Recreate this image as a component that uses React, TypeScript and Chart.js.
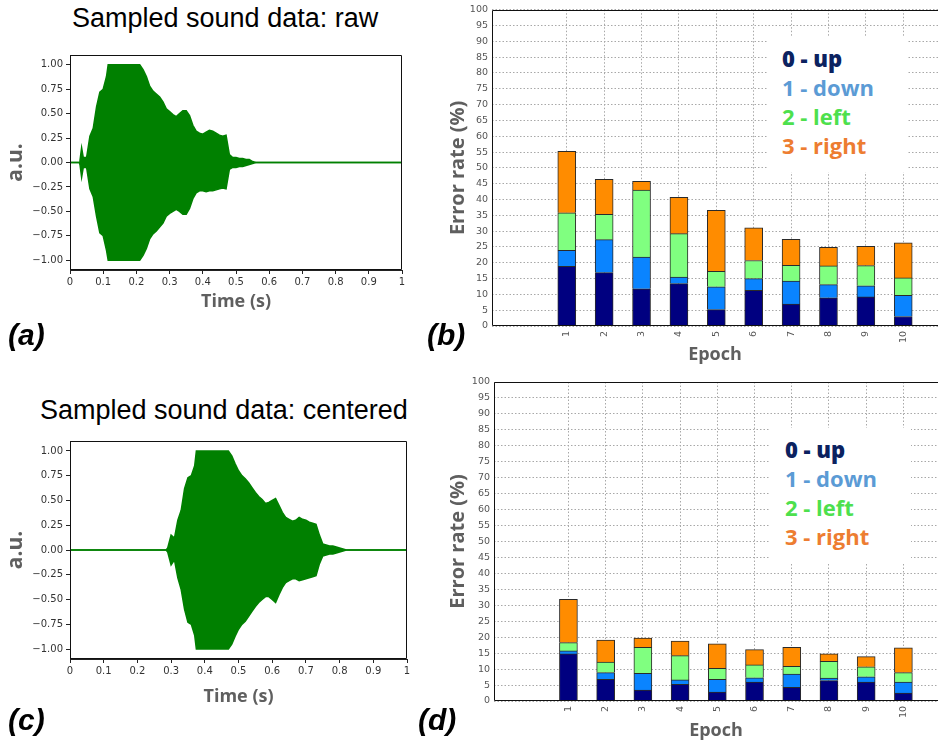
import React, { useEffect, useRef } from 'react';
import { Chart, registerables } from 'chart.js';

Chart.register(...registerables);

// ---------- Data ----------
const epochs = [1, 2, 3, 4, 5, 6, 7, 8, 9, 10];

// Panel (b): raw data, per-class error (%) stacked
const upB = [18.9, 16.9, 11.75, 13.4, 5.2, 11.3, 6.9, 8.9, 9.2, 3.0];
const downB = [5.0, 10.4, 10.05, 2.1, 7.2, 3.7, 7.3, 4.2, 3.5, 6.7];
const leftB = [11.9, 8.0, 21.2, 13.7, 4.9, 5.7, 5.0, 5.9, 6.4, 5.5];
const rightB = [19.4, 11.1, 2.75, 11.5, 19.3, 10.3, 8.2, 5.9, 6.1, 11.1];

// Panel (d): centered data
const upD = [14.75, 6.8, 3.45, 5.2, 2.8, 5.96, 4.3, 6.4, 5.9, 2.5];
const downD = [0.95, 2.1, 5.25, 1.4, 4.0, 1.34, 4.1, 0.8, 1.7, 3.4];
const leftD = [2.6, 3.3, 8.1, 7.6, 3.45, 4.0, 2.5, 5.2, 3.1, 3.0];
const rightD = [13.6, 6.9, 2.9, 4.6, 7.65, 4.8, 5.9, 2.35, 3.2, 7.8];

const classLabels = ['0 - up', '1 - down', '2 - left', '3 - right'];
const errorTicks = [0, 5, 10, 15, 20, 25, 30, 35, 40, 45, 50, 55, 60, 65, 70, 75, 80, 85, 90, 95, 100];

// Panel (a): raw sound envelope (upper / lower) vs time (s)
const timesA = [0, 0.028, 0.03, 0.035, 0.04, 0.05, 0.06, 0.07, 0.08, 0.09, 0.10, 0.11, 0.115, 0.21, 0.22, 0.23,
  0.24, 0.25, 0.26, 0.27, 0.28, 0.29, 0.30, 0.31, 0.32, 0.33, 0.34, 0.35, 0.36, 0.37, 0.38,
  0.39, 0.40, 0.41, 0.42, 0.43, 0.44, 0.45, 0.46, 0.47, 0.48, 0.49, 0.50, 0.51, 0.52, 0.53,
  0.54, 0.55, 0.56, 1];
const upperA = [0, 0, 0.02, 0.15, 0.05, 0.05, 0.27, 0.35, 0.57, 0.72, 0.75, 0.88, 1.0, 1.0, 0.95, 0.88,
  0.78, 0.73, 0.70, 0.67, 0.62, 0.55, 0.52, 0.49, 0.47, 0.50, 0.53, 0.53, 0.48, 0.38, 0.32,
  0.30, 0.29, 0.31, 0.33, 0.32, 0.30, 0.28, 0.27, 0.28, 0.08, 0.05, 0.05, 0.04, 0.04, 0.03,
  0.03, 0.01, 0, 0];
const lowerA = [0, 0, -0.02, -0.15, -0.05, -0.05, -0.27, -0.35, -0.55, -0.72, -0.75, -0.9, -1.0, -1.0, -0.95, -0.88,
  -0.78, -0.73, -0.70, -0.66, -0.62, -0.55, -0.52, -0.50, -0.48, -0.50, -0.53, -0.53, -0.47, -0.37, -0.31,
  -0.29, -0.29, -0.30, -0.29, -0.29, -0.28, -0.27, -0.26, -0.27, -0.07, -0.05, -0.05, -0.04, -0.04, -0.03,
  -0.02, -0.01, 0, 0];

// Panel (c): centered sound envelope
const timesC = [0, 0.285, 0.29, 0.30, 0.31, 0.32, 0.33, 0.34, 0.35, 0.36, 0.37, 0.375, 0.47, 0.48, 0.49, 0.50,
  0.51, 0.52, 0.53, 0.54, 0.55, 0.56, 0.57, 0.58, 0.59, 0.60, 0.61, 0.62, 0.63, 0.64, 0.65,
  0.66, 0.67, 0.68, 0.69, 0.70, 0.71, 0.72, 0.73, 0.74, 0.75, 0.76, 0.77, 0.78, 0.79, 0.80,
  0.81, 0.82, 1];
const upperC = [0, 0, 0.02, 0.15, 0.12, 0.30, 0.40, 0.62, 0.73, 0.75, 0.85, 1.0, 1.0, 0.95, 0.87, 0.80,
  0.75, 0.72, 0.68, 0.63, 0.58, 0.54, 0.51, 0.47, 0.48, 0.50, 0.52, 0.45, 0.38, 0.33, 0.31,
  0.29, 0.30, 0.33, 0.31, 0.30, 0.28, 0.27, 0.26, 0.15, 0.06, 0.05, 0.04, 0.04, 0.03, 0.02,
  0.01, 0, 0];
const lowerC = [0, 0, -0.02, -0.15, -0.10, -0.28, -0.40, -0.60, -0.73, -0.75, -0.86, -1.0, -1.0, -0.95, -0.87, -0.80,
  -0.75, -0.72, -0.67, -0.62, -0.57, -0.53, -0.50, -0.47, -0.47, -0.50, -0.53, -0.45, -0.38, -0.33, -0.31,
  -0.29, -0.29, -0.31, -0.30, -0.29, -0.28, -0.27, -0.26, -0.14, -0.06, -0.05, -0.04, -0.04, -0.03, -0.02,
  -0.01, 0, 0];

const waveXTicks = [0, 0.1, 0.2, 0.3, 0.4, 0.5, 0.6, 0.7, 0.8, 0.9, 1];
const waveYTicks = [-1, -0.75, -0.5, -0.25, 0, 0.25, 0.5, 0.75, 1];

// ---------- Styles ----------
const GREEN = '#008000';
const BAR_COLORS = ['#000080', '#0a84ff', '#80ff80', '#ff8c00'];
const LEGEND_COLORS = ['#0b2260', '#5b9bd5', '#4de04d', '#ed7d31'];
const AXIS_TITLE = '#5f5f5f';

const framePlugin = {
  id: 'frame',
  afterDraw(chart: any, _args: any, opts: any) {
    if (!opts || !opts.mode) return;
    const { ctx, chartArea: a } = chart;
    ctx.save();
    ctx.strokeStyle = '#111';
    ctx.lineWidth = 1;
    ctx.setLineDash([]);
    ctx.beginPath();
    if (opts.mode === 'box') {
      ctx.rect(Math.round(a.left) + 0.5, Math.round(a.top) + 0.5, Math.round(a.width) - 1, Math.round(a.height) - 1);
    } else {
      const l = Math.round(a.left) + 0.5, t = Math.round(a.top) + 0.5, b = Math.round(a.bottom) - 0.5;
      ctx.moveTo(a.right, t);
      ctx.lineTo(l, t);
      ctx.lineTo(l, b);
      ctx.lineTo(a.right, b);
    }
    ctx.stroke();
    ctx.restore();
  },
};

function waveConfig(times: number[], upper: number[], lower: number[], xAxisH: number, padTop: number, padRight: number) {
  return {
    type: 'line',
    data: {
      datasets: [
        {
          data: times.map((t, i) => ({ x: t, y: upper[i] })),
          borderColor: GREEN, backgroundColor: GREEN, borderWidth: 1.5,
          pointRadius: 0, fill: '+1', tension: 0,
        },
        {
          data: times.map((t, i) => ({ x: t, y: lower[i] })),
          borderColor: GREEN, backgroundColor: GREEN, borderWidth: 1.5,
          pointRadius: 0, fill: false, tension: 0,
        },
      ],
    },
    options: {
      responsive: false,
      animation: false,
      layout: { padding: { top: padTop, right: padRight, left: 0, bottom: 0 } },
      plugins: { legend: { display: false }, tooltip: { enabled: false }, frame: { mode: 'box' } },
      scales: {
        x: {
          type: 'linear', min: 0, max: 1,
          afterBuildTicks: (s: any) => { s.ticks = waveXTicks.map((v) => ({ value: v })); },
          afterFit: (s: any) => { s.height = xAxisH; },
          ticks: {
            autoSkip: false, maxRotation: 0, padding: 2, color: '#333',
            font: { family: 'DejaVu Sans', size: 10 },
            callback: (v: number) => String(Math.round(v * 10) / 10),
          },
          grid: { drawOnChartArea: false, drawTicks: true, tickLength: 4, color: '#222' },
          border: { display: true, color: '#222' },
          title: {
            display: true, text: 'Time (s)', color: AXIS_TITLE,
            font: { family: 'Open Sans', size: 18, weight: 'bold', lineHeight: 1.2 },
            padding: { top: 0, bottom: 7 },
          },
        },
        y: {
          type: 'linear', min: -1.1, max: 1.1,
          afterBuildTicks: (s: any) => { s.ticks = waveYTicks.map((v) => ({ value: v })); },
          afterFit: (s: any) => { s.width = 70; },
          ticks: {
            autoSkip: false, padding: 3, color: '#333',
            font: { family: 'DejaVu Sans', size: 10 },
            callback: (v: number) => v.toFixed(2).replace('-', '\u2212'),
          },
          grid: { drawOnChartArea: false, drawTicks: true, tickLength: 4, color: '#222' },
          border: { display: true, color: '#222' },
          title: {
            display: true, text: 'a.u.', color: AXIS_TITLE,
            font: { family: 'Open Sans', size: 21, weight: 'bold', lineHeight: 1.2 },
            padding: { top: 3, bottom: 0 },
          },
        },
      },
    },
  };
}

function barConfig(series: number[][], yAxisW: number, xAxisH: number, padTop: number, epochPadBottom: number) {
  return {
    type: 'bar',
    data: {
      datasets: series.map((vals, k) => ({
        label: classLabels[k],
        data: epochs.map((e, i) => ({ x: e, y: vals[i] })),
        backgroundColor: BAR_COLORS[k],
        borderColor: '#2a2a2a',
        borderWidth: 1,
        barThickness: 18,
      })),
    },
    options: {
      responsive: false,
      animation: false,
      layout: { padding: { top: padTop, right: 0, left: 0, bottom: 0 } },
      plugins: { legend: { display: false }, tooltip: { enabled: false }, frame: { mode: 'axes' } },
      scales: {
        x: {
          type: 'linear', stacked: true, min: -1, max: 10.93, offset: false,
          afterBuildTicks: (s: any) => { s.ticks = epochs.map((v) => ({ value: v })); },
          afterFit: (s: any) => { s.height = xAxisH; },
          ticks: {
            autoSkip: false, minRotation: 90, maxRotation: 90, padding: 5, color: '#555',
            font: { family: 'DejaVu Sans', size: 9.5 },
          },
          grid: { drawTicks: false, color: '#a8a8a8', lineWidth: 1, offset: false },
          border: { display: false, dash: [1.5, 2] },
          title: {
            display: true, text: 'Epoch', color: AXIS_TITLE,
            font: { family: 'Open Sans', size: 18, weight: 'bold', lineHeight: 1.2 },
            padding: { top: 0, bottom: epochPadBottom },
          },
        },
        y: {
          type: 'linear', stacked: true, min: 0, max: 100,
          afterBuildTicks: (s: any) => { s.ticks = errorTicks.map((v) => ({ value: v })); },
          afterFit: (s: any) => { s.width = yAxisW; },
          ticks: {
            autoSkip: false, padding: 4, color: '#555',
            font: { family: 'DejaVu Sans', size: 9.5 },
          },
          grid: { drawTicks: false, color: '#a8a8a8', lineWidth: 1 },
          border: { display: false, dash: [1.5, 2] },
          title: {
            display: true, text: 'Error rate (%)', color: AXIS_TITLE,
            font: { family: 'Open Sans', size: 20, weight: 'bold', lineHeight: 1.2 },
            padding: { top: 6, bottom: 0 },
          },
        },
      },
    },
  };
}

function ChartBox({ left, top, width, height, config }: any) {
  const ref = useRef<HTMLCanvasElement | null>(null);
  useEffect(() => {
    if (!ref.current) return;
    const chart = new Chart(ref.current, { ...config, plugins: [framePlugin] } as any);
    return () => chart.destroy();
  }, []);
  return (
    <canvas
      ref={ref}
      width={width}
      height={height}
      style={{ position: 'absolute', left, top, width, height }}
    />
  );
}

function Legend({ left, top }: { left: number; top: number }) {
  return (
    <div
      style={{
        position: 'absolute', left, top, width: 141, height: 135, background: '#fff',
        boxSizing: 'border-box', paddingLeft: 15, paddingTop: 6.5,
        fontFamily: '"Open Sans", sans-serif', fontSize: 22,
      }}
    >
      {classLabels.map((t, k) => (
        <div key={t} style={{ height: 29, lineHeight: '29px', color: LEGEND_COLORS[k], fontWeight: k === 0 ? 800 : 700, whiteSpace: 'nowrap' }}>
          {t}
        </div>
      ))}
    </div>
  );
}

const titleStyle: any = {
  position: 'absolute', fontFamily: '"Liberation Sans", Arial, sans-serif', fontSize: 27,
  lineHeight: 1, color: '#000', whiteSpace: 'nowrap',
};
const panelLabelStyle: any = {
  position: 'absolute', fontFamily: '"Liberation Sans", Arial, sans-serif', fontSize: 30,
  fontWeight: 'bold', fontStyle: 'italic', lineHeight: 1, color: '#000', whiteSpace: 'nowrap',
};

export default function App() {
  return (
    <div style={{ position: 'fixed', left: 0, top: 0, width: 938, height: 742, background: '#fff', overflow: 'hidden' }}>
      <div style={{ ...titleStyle, left: 72, top: 5 }}>Sampled sound data: raw</div>
      <div style={{ ...titleStyle, left: 40, top: 397 }}>Sampled sound data: centered</div>

      <ChartBox left={0} top={40} width={420} height={280} config={waveConfig(timesA, upperA, lowerA, 50, 15, 18)} />
      <ChartBox left={0} top={425} width={420} height={290} config={waveConfig(timesC, upperC, lowerC, 56, 16, 13)} />

      <ChartBox left={440} top={0} width={498} height={370} config={barConfig([upB, downB, leftB, rightB], 52, 44, 8, 4)} />
      <ChartBox left={440} top={370} width={498} height={372} config={barConfig([upD, downD, leftD, rightD], 54, 41, 12, 0)} />

      <Legend left={767} top={37} />
      <Legend left={770} top={428} />

      <div style={{ ...panelLabelStyle, left: 8, top: 320 }}>(a)</div>
      <div style={{ ...panelLabelStyle, left: 427, top: 320 }}>(b)</div>
      <div style={{ ...panelLabelStyle, left: 8, top: 705 }}>(c)</div>
      <div style={{ ...panelLabelStyle, left: 418, top: 705 }}>(d)</div>
    </div>
  );
}
